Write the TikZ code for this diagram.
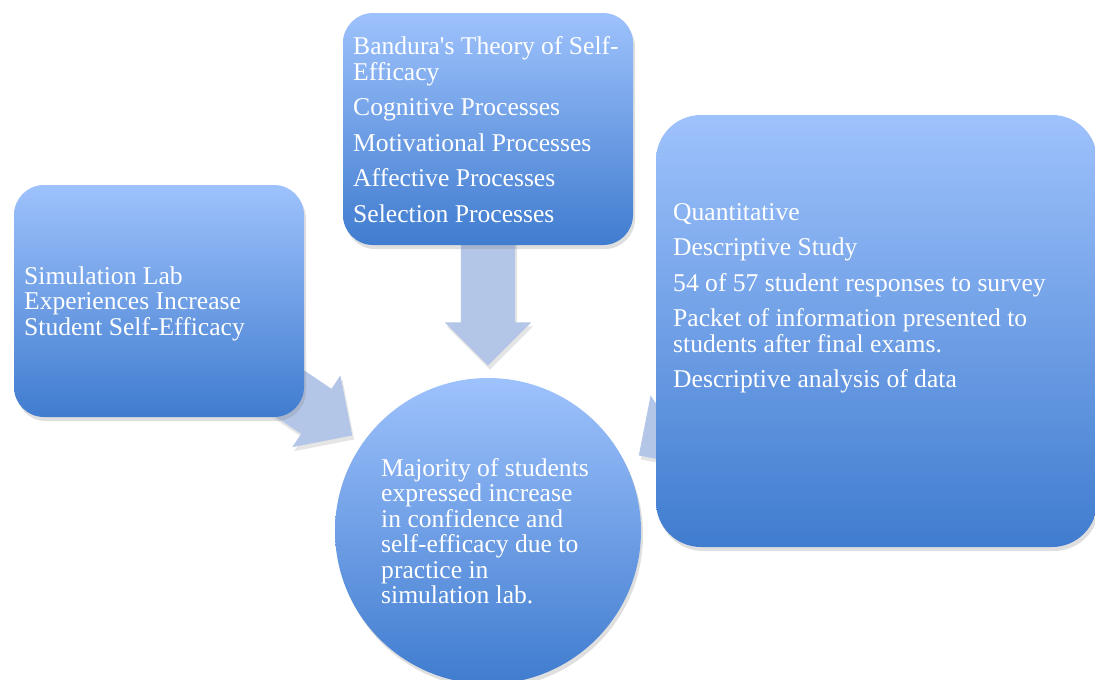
\documentclass[tikz,border=0pt]{standalone}
\usepackage{fontspec}
\setmainfont{Liberation Serif}
\usetikzlibrary{shapes.arrows,shadows}
\definecolor{boxtop}{RGB}{158,194,252}
\definecolor{boxbot}{RGB}{64,124,207}
\definecolor{arrowblue}{RGB}{180,198,231}
\begin{document}
\begin{tikzpicture}[x=1pt, y=-1pt,
      shade/.style={top color=boxtop, bottom color=boxbot, drop shadow={opacity=0.25, shadow xshift=2pt, shadow yshift=-4pt}},
      box/.style={shade, rectangle, rounded corners=30pt, minimum width=290pt, minimum height=232pt, inner sep=0pt},
      txt/.style={text=white, align=left, inner sep=0pt, anchor=west, font=\fontsize{25.6}{25.5}\selectfont},
      blockarrow/.style={single arrow, fill=arrowblue, inner sep=0pt, inner ysep=27pt, single arrow head extend=16pt, minimum height=125pt, drop shadow={opacity=0.2, shadow xshift=2pt, shadow yshift=-4pt}}]
%           	\draw (0,0) grid (1095, 680) {};
            \useasboundingbox (0,0) rectangle (1095,680);
            \clip (0,0) rectangle (1095,680);
            \fill[white] (0,0) rectangle (1095,680);
            % arrows go under the boxes
            \node[blockarrow, rotate=-90] (adown) at (488, 289.5) {};
            \node[blockarrow, rotate=-33.9] (aleft) at (289, 393) {};
            \node[blockarrow, rotate=-146.1] (aright) at (702, 413) {};
            \node[box] (sim) at (159, 301) {};
            \node[box] (bandura) at (488, 129) {};
            \node[box, rounded corners=45pt, minimum width=441pt, minimum height=432pt] (method) at (876.5, 331) {};
            \node[shade, circle, minimum size=306pt, inner sep=0pt] (result) at (488, 531) {};
            \node[txt] (simtxt) at (24, 303.5) {Simulation Lab\\ Experiences Increase\\ Student Self-Efficacy};
            \node[txt] (bandtxt) at (353, 129.5) {Bandura\textquotesingle s Theory of Self-\\ Efficacy\\[10pt] Cognitive Processes\\[10pt] Motivational Processes\\[10pt] Affective Processes\\[10pt] Selection Processes};
            \node[txt] (methtxt) at (673, 298.5) {Quantitative\\[10pt] Descriptive Study\\[10pt] 54 of 57 student responses to survey\\[10pt] Packet of information presented to\\ students after final exams.\\[10pt] Descriptive analysis of data};
            \node[txt] (restxt) at (381, 531) {Majority of students\\ expressed increase\\ in confidence and\\ self-efficacy due to\\ practice in\\ simulation lab.};
\end{tikzpicture}
\end{document}
